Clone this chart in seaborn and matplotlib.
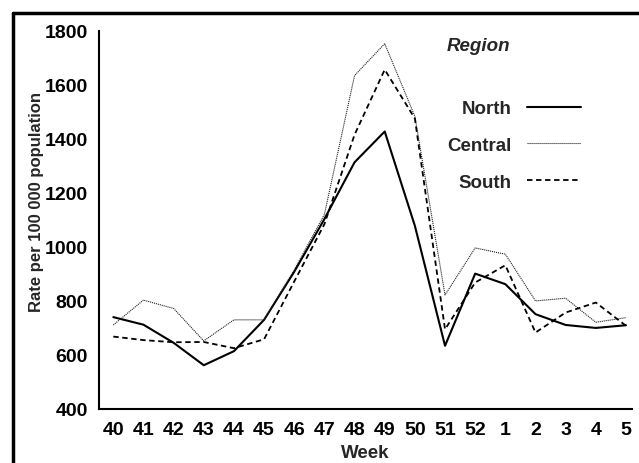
import matplotlib
matplotlib.use("Agg")
import matplotlib.pyplot as plt
import seaborn as sns
import pandas as pd
from matplotlib.lines import Line2D

weeks = ['40', '41', '42', '43', '44', '45', '46', '47', '48', '49', '50',
         '51', '52', '1', '2', '3', '4', '5']
north = [740, 712, 645, 562, 614, 730, 908, 1103, 1313, 1427, 1078, 634,
         901, 862, 751, 711, 700, 710]
central = [711, 803, 772, 652, 730, 730, 915, 1120, 1634, 1752, 1483, 822,
           996, 973, 800, 810, 721, 738]
south = [668, 655, 647, 648, 625, 658, 872, 1084, 1415, 1656, 1475, 695,
         868, 932, 683, 757, 794, 708]
regions = ['North', 'Central', 'South']
yticks = [400, 600, 800, 1000, 1200, 1400, 1600, 1800]

df = pd.DataFrame({
    'Week': weeks * 3,
    'Rate': north + central + south,
    'Region': ['North'] * len(weeks) + ['Central'] * len(weeks) + ['South'] * len(weeks),
})

sns.set_style("white")
plt.rcParams['font.family'] = ['Liberation Sans', 'DejaVu Sans']
plt.rcParams['font.weight'] = 'bold'

fig = plt.figure(figsize=(6.39, 4.64), dpi=100)
ax = fig.add_axes([99 / 639, 1 - 410 / 464, (632 - 99) / 639, (410 - 31.7) / 464])

sns.lineplot(data=df, x='Week', y='Rate', hue='Region', style='Region',
             hue_order=regions, style_order=regions,
             palette={'North': 'black', 'Central': '#222222', 'South': 'black'},
             dashes={'North': '', 'Central': (1, 0.8), 'South': (3, 2)},
             sort=False, legend=False, ax=ax)

lws = {'North': 1.5, 'Central': 0.8, 'South': 1.3}
for line, r in zip(ax.lines, regions):
    line.set_linewidth(lws[r])
    line.set_label(r)

ax.set_ylim(400, 1800)
ax.set_xlim(-0.474, 17.2)
ax.set_yticks(yticks)
ax.set_xticks(range(len(weeks)))
ax.set_xticklabels(weeks)
ax.tick_params(axis='both', direction='out', length=5, width=1.3,
               labelsize=14, color='black', labelcolor='black', pad=3)
ax.tick_params(axis='x', pad=4)
for lab in ax.get_xticklabels() + ax.get_yticklabels():
    lab.set_fontweight('bold')
for s in ['top', 'right']:
    ax.spines[s].set_visible(False)
for s in ['left', 'bottom']:
    ax.spines[s].set_linewidth(1.5)
    ax.spines[s].set_color('black')

ax.set_xlabel('Week', fontsize=13.5, fontweight='bold', labelpad=4)
ax.set_ylabel('Rate per 100 000 population', fontsize=12, fontweight='bold')
ax.yaxis.set_label_coords(-0.103, 0.55)

leg = ax.legend(handles=ax.lines[:3], labels=regions, markerfirst=False,
                frameon=False, loc='upper left',
                bbox_to_anchor=(0.654, 0.816), borderpad=0, borderaxespad=0,
                handlelength=2.9, handletextpad=0.8, labelspacing=1.04,
                prop={'size': 13.5, 'weight': 'bold'})

ax.text(0.652, 0.96, 'Region', transform=ax.transAxes, fontsize=13.5,
        fontweight='bold', fontstyle='italic', ha='left', va='center')

# outer frame (top and left)
fig.add_artist(Line2D([13 / 639, 13 / 639], [0, 1 - 14 / 464], color='black',
                      linewidth=2.5, transform=fig.transFigure))
fig.add_artist(Line2D([13 / 639, 1], [1 - 14 / 464, 1 - 14 / 464], color='black',
                      linewidth=2.5, transform=fig.transFigure))

fig.savefig('out.png', dpi=100)
